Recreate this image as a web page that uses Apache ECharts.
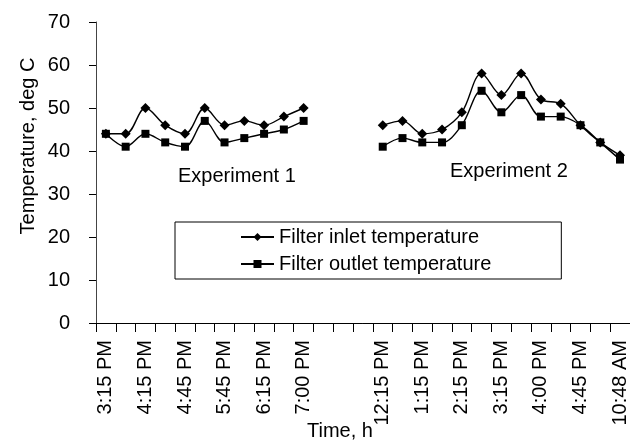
<!DOCTYPE html>
<html>
<head>
<meta charset="utf-8">
<script src="https://cdn.jsdelivr.net/npm/echarts@6/dist/echarts.min.js"></script>
<style>html,body{margin:0;padding:0;background:#fff}#c{width:630px;height:441px}</style>
</head>
<body>
<div id="c"></div>
<script>
// Tick labels (every other category is unlabeled; 3 empty categories separate the experiments)
const tickLabels = ['3:15 PM','','4:15 PM','','4:45 PM','','5:45 PM','','6:15 PM','','7:00 PM',
  '','','',
  '12:15 PM','','1:15 PM','','2:15 PM','','3:15 PM','','4:00 PM','','4:45 PM','','10:48 AM'];
// Experiment 1
const inlet1  = [44,44,50,46,44,50,46,47,46,48,50];
const outlet1 = [44,41,44,42,41,47,42,43,44,45,47];
// Experiment 2
const inlet2  = [46,47,44,45,49,58,53,58,52,51,46,42,39];
const outlet2 = [41,43,42,42,46,54,49,53,48,48,46,42,38];
const gapLen = 3;
const seriesNames = ['Filter inlet temperature','Filter outlet temperature'];
const annotations = ['Experiment 1','Experiment 2'];
const yTitle = 'Temperature, deg C';
const xTitle = 'Time, h';

const gap = new Array(gapLen).fill('-');
const inlet = inlet1.concat(gap, inlet2);
const outlet = outlet1.concat(gap, outlet2);
const cats = tickLabels.map((_, i) => String(i));
const FONT = "'Liberation Sans', Arial, sans-serif";

const chart = echarts.init(document.getElementById('c'), null, {renderer: 'canvas'});
chart.setOption({
  animation: false,
  backgroundColor: '#fff',
  textStyle: {fontFamily: FONT},
  grid: {left: 96, top: 22, right: -1, bottom: 118, containLabel: false},
  xAxis: {
    type: 'category',
    data: cats,
    boundaryGap: true,
    axisLine: {lineStyle: {color: '#000', width: 1}},
    axisTick: {show: true, interval: 0, length: 9, lineStyle: {color: '#000'}},
    axisLabel: {
      interval: 0, rotate: 90, margin: 17, color: '#000', fontSize: 20, fontFamily: FONT,
      formatter: (v) => tickLabels[+v]
    },
    splitLine: {show: false}
  },
  yAxis: {
    type: 'value', min: 0, max: 70, interval: 10,
    axisLine: {show: true, lineStyle: {color: '#444', width: 1}},
    axisTick: {show: true, length: 7, lineStyle: {color: '#000'}},
    axisLabel: {color: '#000', fontSize: 20, margin: 26, fontFamily: FONT},
    splitLine: {show: false}
  },
  legend: {
    show: true,
    orient: 'vertical',
    left: 175, top: 222,
    padding: [5, 70, 5, 65],
    itemGap: 7,
    itemWidth: 33, itemHeight: 10,
    borderColor: '#000', borderWidth: 1,
    backgroundColor: '#fff',
    textStyle: {color: '#000', fontSize: 20, fontFamily: FONT},
    data: seriesNames
  },
  series: [
    {
      name: seriesNames[0], type: 'line', data: inlet,
      symbol: 'diamond', symbolSize: 10, smooth: 0.35,
      lineStyle: {color: '#000', width: 1.4},
      itemStyle: {color: '#000'}
    },
    {
      name: seriesNames[1], type: 'line', data: outlet,
      symbol: 'rect', symbolSize: 8, smooth: 0.35,
      lineStyle: {color: '#000', width: 1.4},
      itemStyle: {color: '#000'}
    }
  ],
  graphic: [
    {type: 'text', left: 178, top: 166, style: {text: annotations[0], font: '20px ' + FONT, fill: '#000'}},
    {type: 'text', left: 450, top: 161, style: {text: annotations[1], font: '20px ' + FONT, fill: '#000'}},
    {type: 'text', x: 28, y: 146, rotation: Math.PI / 2,
      style: {text: yTitle, font: '20px ' + FONT, fill: '#000', align: 'center', verticalAlign: 'middle'}},
    {type: 'text', x: 340, y: 431,
      style: {text: xTitle, font: '20px ' + FONT, fill: '#000', align: 'center', verticalAlign: 'middle'}}
  ]
});
</script>
</body>
</html>
